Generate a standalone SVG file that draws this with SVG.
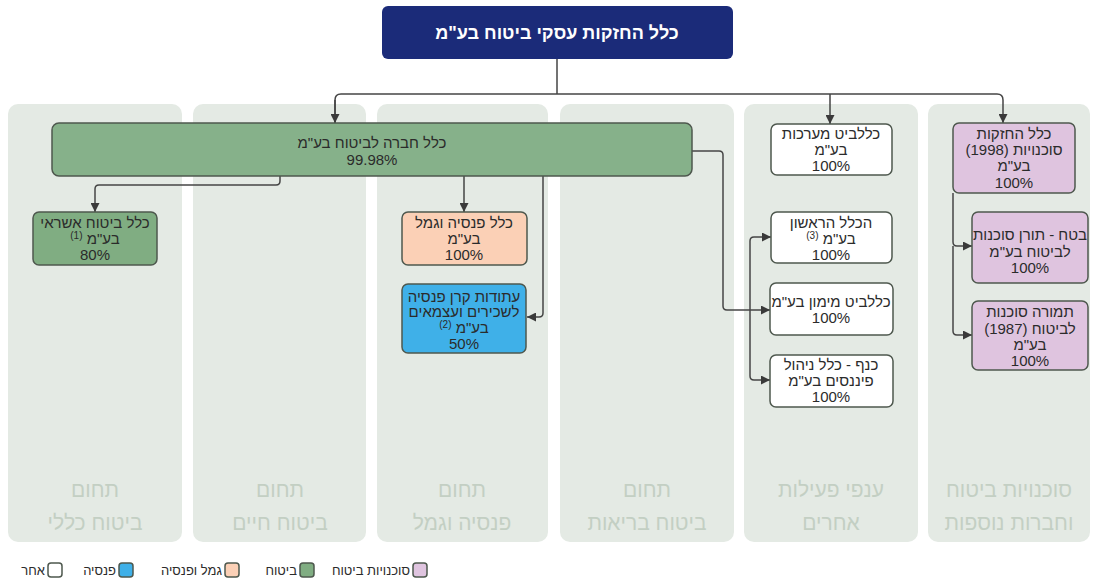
<svg xmlns="http://www.w3.org/2000/svg" width="1095" height="580" viewBox="0 0 1095 580">
<defs>
<marker id="arr" viewBox="0 0 10 10" refX="10" refY="5" markerWidth="9" markerHeight="9" markerUnits="userSpaceOnUse" orient="auto">
<path d="M0,0 L10,5 L0,10 z" fill="#3a3a3a"/>
</marker>
<style>
.col{fill:#e4eae4}
.lbl{font-family:"Liberation Sans",Arial,sans-serif;font-size:21px;fill:#c3cfc3;text-anchor:middle;direction:rtl}
.t{font-family:"Liberation Sans",Arial,sans-serif;font-size:15px;fill:#2b2b2b;text-anchor:middle;direction:rtl}
.sup{font-size:10px}
.box{stroke:#4e584e;stroke-width:1.5}
.green{fill:#86b18a}
.green2{fill:#80ad82}
.orange{fill:#fbd0b6}
.blue{fill:#3fb0e8}
.pink{fill:#dfc4df}
.white{fill:#ffffff}
.conn{fill:none;stroke:#454545;stroke-width:1.5}
.lg{font-family:"Liberation Sans",Arial,sans-serif;font-size:13px;fill:#2b2b2b;text-anchor:end;direction:ltr}
</style>
</defs>
<rect width="1095" height="580" fill="#ffffff"/>

<g id="columns">
<rect class="col" x="8" y="104" width="174" height="438" rx="10"/>
<rect class="col" x="193" y="104" width="173" height="438" rx="10"/>
<rect class="col" x="377" y="104" width="171" height="438" rx="10"/>
<rect class="col" x="560" y="104" width="174" height="438" rx="10"/>
<rect class="col" x="744" y="104" width="174" height="438" rx="10"/>
<rect class="col" x="928" y="104" width="162" height="438" rx="10"/>
<text class="lbl" x="95" y="497">תחום</text>
<text class="lbl" x="95" y="530">ביטוח כללי</text>
<text class="lbl" x="280" y="497">תחום</text>
<text class="lbl" x="280" y="530">ביטוח חיים</text>
<text class="lbl" x="462" y="497">תחום</text>
<text class="lbl" x="462" y="530">פנסיה וגמל</text>
<text class="lbl" x="647" y="497">תחום</text>
<text class="lbl" x="647" y="530">ביטוח בריאות</text>
<text class="lbl" x="831" y="497">ענפי פעילות</text>
<text class="lbl" x="831" y="530">אחרים</text>
<text class="lbl" x="1009" y="497">סוכנויות ביטוח</text>
<text class="lbl" x="1009" y="530">וחברות נוספות</text>
</g>

<g id="connectors">
<path class="conn" d="M557,59 V94"/>
<path class="conn" d="M335,123 V100 Q335,94 341,94 H997 Q1003,94 1003,100 V123" marker-end="url(#arr)"/>
<path class="conn" d="M335,100 V123" marker-end="url(#arr)"/>
<path class="conn" d="M830,94 V124" marker-end="url(#arr)"/>
<path class="conn" d="M280,176 V181 Q280,185 276,185 H99 Q95,185 95,189 V212" marker-end="url(#arr)"/>
<path class="conn" d="M464,176 V212" marker-end="url(#arr)"/>
<path class="conn" d="M543,176 V313 Q543,317 539,317 H527" marker-end="url(#arr)"/>
<path class="conn" d="M692,151 H719 Q723,151 723,155 V306 Q723,310 727,310 H770" marker-end="url(#arr)"/>
<path class="conn" d="M750,310 V241 Q750,237 754,237 H771" marker-end="url(#arr)"/>
<path class="conn" d="M750,310 V376 Q750,380 754,380 H770" marker-end="url(#arr)"/>
<path class="conn" d="M953,193 V242 Q953,246 957,246 H972" marker-end="url(#arr)"/>
<path class="conn" d="M953,246 V331 Q953,335 957,335 H972" marker-end="url(#arr)"/>
</g>

<g id="n-root">
<rect x="382" y="6" width="351" height="53" rx="6" fill="#1b2b79"/>
<text x="557" y="39" font-family="Liberation Sans, Arial, sans-serif" font-size="18" font-weight="bold" fill="#ffffff" text-anchor="middle" direction="rtl">כלל החזקות עסקי ביטוח בע"מ</text>
</g>

<g id="n-clal-insurance">
<rect class="box green" x="52" y="123" width="640" height="53" rx="7"/>
<text class="t" x="372" y="148">כלל חברה לביטוח בע"מ</text>
<text class="t" x="372" y="165">99.98%</text>
</g>

<g id="n-credit">
<rect class="box green2" x="33" y="212" width="124" height="53" rx="6"/>
<text class="t" x="95" y="228">כלל ביטוח אשראי</text>
<text class="t" x="95" y="244">בע"מ <tspan class="sup" dy="-5">(1)</tspan></text>
<text class="t" x="95" y="260">80%</text>
</g>

<g id="n-pension">
<rect class="box orange" x="402" y="212" width="125" height="53" rx="6"/>
<text class="t" x="464" y="228">כלל פנסיה וגמל</text>
<text class="t" x="464" y="244">בע"מ</text>
<text class="t" x="464" y="260">100%</text>
</g>

<g id="n-atudot">
<rect class="box blue" x="402" y="284" width="124" height="69" rx="6"/>
<text class="t" x="464" y="302">עתודות קרן פנסיה</text>
<text class="t" x="464" y="317">לשכירים ועצמאים</text>
<text class="t" x="464" y="333">בע"מ <tspan class="sup" dy="-5">(2)</tspan></text>
<text class="t" x="464" y="349">50%</text>
</g>

<g id="n-clalbit-systems">
<rect class="box white" x="771" y="124" width="121" height="51" rx="6"/>
<text class="t" x="831" y="139">כללביט מערכות</text>
<text class="t" x="831" y="155">בע"מ</text>
<text class="t" x="831" y="171">100%</text>
</g>

<g id="n-harishon">
<rect class="box white" x="771" y="212" width="121" height="51" rx="6"/>
<text class="t" x="831" y="228">הכלל הראשון</text>
<text class="t" x="831" y="244">בע"מ <tspan class="sup" dy="-5">(3)</tspan></text>
<text class="t" x="831" y="260">100%</text>
</g>

<g id="n-clalbit-finance">
<rect class="box white" x="770" y="283" width="123" height="52" rx="6"/>
<text class="t" x="831" y="307">כללביט מימון בע"מ</text>
<text class="t" x="831" y="323">100%</text>
</g>

<g id="n-kanaf">
<rect class="box white" x="770" y="355" width="123" height="52" rx="6"/>
<text class="t" x="831" y="370">כנף - כלל ניהול</text>
<text class="t" x="831" y="386">פיננסים בע"מ</text>
<text class="t" x="831" y="402">100%</text>
</g>

<g id="n-agencies">
<rect class="box pink" x="953" y="123" width="122" height="70" rx="6"/>
<text class="t" x="1014" y="139">כלל החזקות</text>
<text class="t" x="1014" y="155">סוכנויות (1998)</text>
<text class="t" x="1014" y="171">בע"מ</text>
<text class="t" x="1014" y="188">100%</text>
</g>

<g id="n-betach">
<rect class="box pink" x="972" y="212" width="116" height="71" rx="6"/>
<text class="t" x="1030" y="240">בטח - תורן סוכנות</text>
<text class="t" x="1030" y="257">לביטוח בע"מ</text>
<text class="t" x="1030" y="273">100%</text>
</g>

<g id="n-tmura">
<rect class="box pink" x="972" y="301" width="116" height="69" rx="6"/>
<text class="t" x="1030" y="317">תמורה סוכנות</text>
<text class="t" x="1030" y="334">לביטוח (1987)</text>
<text class="t" x="1030" y="350">בע"מ</text>
<text class="t" x="1030" y="366">100%</text>
</g>

<g id="legend">
<rect class="box pink" x="413" y="563" width="14" height="14" rx="3"/>
<text class="lg" x="410" y="575">סוכנויות ביטוח</text>
<rect class="box green2" x="300" y="563" width="14" height="14" rx="3"/>
<text class="lg" x="297" y="575">ביטוח</text>
<rect class="box orange" x="225" y="563" width="14" height="14" rx="3"/>
<text class="lg" x="222" y="575">גמל ופנסיה</text>
<rect class="box blue" x="119" y="563" width="14" height="14" rx="3"/>
<text class="lg" x="116" y="575">פנסיה</text>
<rect class="box white" x="48" y="563" width="14" height="14" rx="3"/>
<text class="lg" x="45" y="575">אחר</text>
</g>
</svg>
